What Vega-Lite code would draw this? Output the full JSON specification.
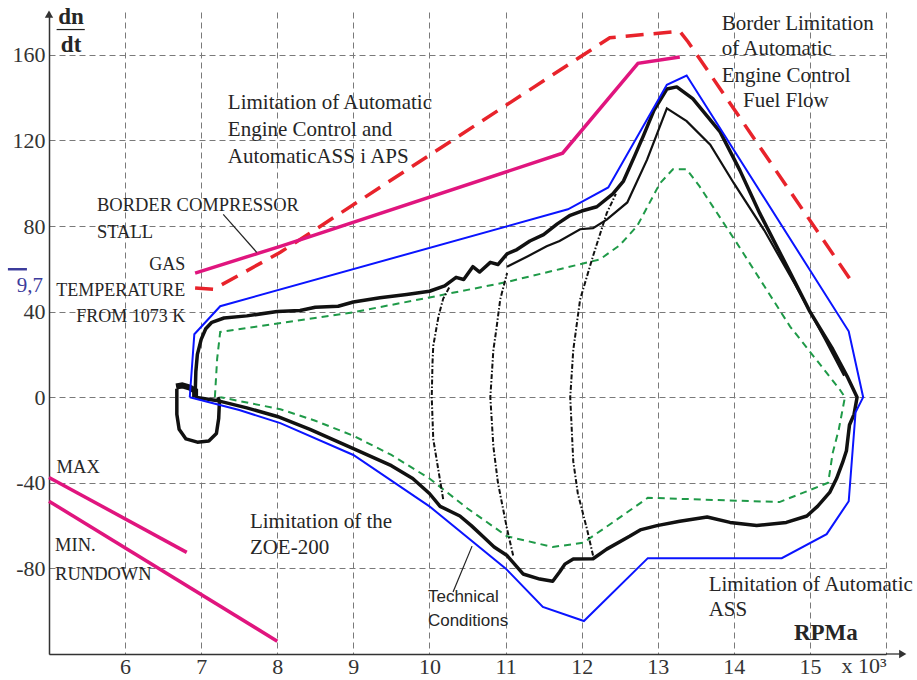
{
  "$schema": "https://vega.github.io/schema/vega-lite/v6.json",
  "width": 837,
  "height": 642,
  "autosize": {"type": "none"},
  "padding": {"left": 49, "top": 12, "right": 31, "bottom": 26},
  "background": "white",
  "config": {
    "view": {"stroke": null},
    "font": "Liberation Serif",
    "axis": {
      "domainColor": "#333333", "domainWidth": 1.5, "ticks": false,
      "grid": true, "gridColor": "#7a7a7a", "gridDash": [6, 4], "gridWidth": 1,
      "labelFont": "Liberation Serif", "labelFontSize": 22, "labelColor": "#333333",
      "labelFlush": false, "labelOverlap": false, "title": null
    }
  },
  "datasets": {
    "lines": [
      {"s": "blue", "x": 6.85, "y": 0}, {"s": "blue", "x": 6.91, "y": 29.4}, {"s": "blue", "x": 7.25, "y": 42.5},
      {"s": "blue", "x": 11.82, "y": 87.8}, {"s": "blue", "x": 12.35, "y": 98}, {"s": "blue", "x": 13.12, "y": 146},
      {"s": "blue", "x": 13.38, "y": 150.3}, {"s": "blue", "x": 15.51, "y": 30.8}, {"s": "blue", "x": 15.7, "y": 0},
      {"s": "blue", "x": 15.6, "y": -7}, {"s": "blue", "x": 15.51, "y": -48.6}, {"s": "blue", "x": 15.22, "y": -64},
      {"s": "blue", "x": 14.63, "y": -75.2}, {"s": "blue", "x": 12.87, "y": -75.2}, {"s": "blue", "x": 12.03, "y": -104.6},
      {"s": "blue", "x": 11.49, "y": -98}, {"s": "blue", "x": 11.0, "y": -80}, {"s": "blue", "x": 10.0, "y": -51},
      {"s": "blue", "x": 9.0, "y": -27}, {"s": "blue", "x": 8.04, "y": -12.1}, {"s": "blue", "x": 7.5, "y": -6},
      {"s": "blue", "x": 6.85, "y": 0},

      {"s": "green", "x": 7.18, "y": 0}, {"s": "green", "x": 7.21, "y": 18}, {"s": "green", "x": 7.25, "y": 30.5},
      {"s": "green", "x": 9.0, "y": 39.7}, {"s": "green", "x": 10.0, "y": 46.6}, {"s": "green", "x": 11.0, "y": 53.7},
      {"s": "green", "x": 11.71, "y": 59.8}, {"s": "green", "x": 12.24, "y": 64.4}, {"s": "green", "x": 12.5, "y": 71},
      {"s": "green", "x": 12.73, "y": 80}, {"s": "green", "x": 13.03, "y": 100}, {"s": "green", "x": 13.2, "y": 106.5},
      {"s": "green", "x": 13.38, "y": 106.5}, {"s": "green", "x": 13.55, "y": 98.5}, {"s": "green", "x": 14.04, "y": 72},
      {"s": "green", "x": 14.74, "y": 33}, {"s": "green", "x": 15.39, "y": 3.7}, {"s": "green", "x": 15.46, "y": 0},
      {"s": "green", "x": 15.38, "y": -15}, {"s": "green", "x": 15.3, "y": -26}, {"s": "green", "x": 15.24, "y": -40},
      {"s": "green", "x": 14.6, "y": -49}, {"s": "green", "x": 12.87, "y": -47}, {"s": "green", "x": 12.41, "y": -58.5},
      {"s": "green", "x": 12.02, "y": -68}, {"s": "green", "x": 11.62, "y": -70}, {"s": "green", "x": 11.02, "y": -65},
      {"s": "green", "x": 10.5, "y": -52}, {"s": "green", "x": 10.0, "y": -38}, {"s": "green", "x": 9.5, "y": -27},
      {"s": "green", "x": 9.0, "y": -18}, {"s": "green", "x": 8.5, "y": -11}, {"s": "green", "x": 8.04, "y": -5.6},
      {"s": "green", "x": 7.25, "y": 0},

      {"s": "red", "x": 6.92, "y": 51}, {"s": "red", "x": 7.16, "y": 50.4}, {"s": "red", "x": 8.04, "y": 67.7},
      {"s": "red", "x": 12.37, "y": 168}, {"s": "red", "x": 13.29, "y": 171}, {"s": "red", "x": 13.4, "y": 166},
      {"s": "red", "x": 15.55, "y": 54},

      {"s": "mag", "x": 6.92, "y": 58}, {"s": "mag", "x": 8.04, "y": 70.5}, {"s": "mag", "x": 11.75, "y": 114},
      {"s": "mag", "x": 12.74, "y": 156}, {"s": "mag", "x": 13.29, "y": 159},
      {"s": "max", "x": 5.0, "y": -37.5}, {"s": "max", "x": 6.81, "y": -72.5},
      {"s": "min", "x": 5.0, "y": -48.6}, {"s": "min", "x": 8.0, "y": -114}
    ],
    "black": [
      {"s": "main", "x": 6.92, "y": 0}, {"s": "main", "x": 6.93, "y": 12}, {"s": "main", "x": 6.95, "y": 20},
      {"s": "main", "x": 7.0, "y": 27}, {"s": "main", "x": 7.06, "y": 32}, {"s": "main", "x": 7.14, "y": 35},
      {"s": "main", "x": 7.3, "y": 37}, {"s": "main", "x": 7.6, "y": 38}, {"s": "main", "x": 8.0, "y": 40},
      {"s": "main", "x": 8.3, "y": 40.5}, {"s": "main", "x": 8.5, "y": 42}, {"s": "main", "x": 8.8, "y": 42.5},
      {"s": "main", "x": 9.0, "y": 44.5}, {"s": "main", "x": 9.35, "y": 46.5}, {"s": "main", "x": 9.7, "y": 48},
      {"s": "main", "x": 10.0, "y": 49.5}, {"s": "main", "x": 10.2, "y": 52}, {"s": "main", "x": 10.35, "y": 56},
      {"s": "main", "x": 10.45, "y": 55}, {"s": "main", "x": 10.57, "y": 61}, {"s": "main", "x": 10.66, "y": 58.5},
      {"s": "main", "x": 10.8, "y": 63}, {"s": "main", "x": 10.9, "y": 62}, {"s": "main", "x": 11.02, "y": 67},
      {"s": "main", "x": 11.15, "y": 69}, {"s": "main", "x": 11.32, "y": 73}, {"s": "main", "x": 11.5, "y": 76},
      {"s": "main", "x": 11.68, "y": 81}, {"s": "main", "x": 11.85, "y": 85}, {"s": "main", "x": 12.0, "y": 87},
      {"s": "main", "x": 12.2, "y": 89}, {"s": "main", "x": 12.41, "y": 95}, {"s": "main", "x": 12.55, "y": 101},
      {"s": "main", "x": 12.7, "y": 113}, {"s": "main", "x": 12.81, "y": 122}, {"s": "main", "x": 12.95, "y": 134},
      {"s": "main", "x": 13.12, "y": 144}, {"s": "main", "x": 13.25, "y": 145}, {"s": "main", "x": 13.46, "y": 139.5},
      {"s": "main", "x": 13.82, "y": 124}, {"s": "main", "x": 14.08, "y": 106}, {"s": "main", "x": 14.34, "y": 86},
      {"s": "main", "x": 14.7, "y": 61}, {"s": "main", "x": 15.0, "y": 40}, {"s": "main", "x": 15.3, "y": 22.4},
      {"s": "main", "x": 15.5, "y": 9}, {"s": "main", "x": 15.62, "y": 0}, {"s": "main", "x": 15.58, "y": -8},
      {"s": "main", "x": 15.52, "y": -13}, {"s": "main", "x": 15.48, "y": -25}, {"s": "main", "x": 15.43, "y": -30.5},
      {"s": "main", "x": 15.35, "y": -38}, {"s": "main", "x": 15.26, "y": -44.5}, {"s": "main", "x": 15.1, "y": -51},
      {"s": "main", "x": 14.96, "y": -55.5}, {"s": "main", "x": 14.69, "y": -58.5}, {"s": "main", "x": 14.3, "y": -60},
      {"s": "main", "x": 13.95, "y": -58.5}, {"s": "main", "x": 13.65, "y": -56}, {"s": "main", "x": 13.29, "y": -58},
      {"s": "main", "x": 12.99, "y": -60}, {"s": "main", "x": 12.77, "y": -62}, {"s": "main", "x": 12.63, "y": -65},
      {"s": "main", "x": 12.33, "y": -71}, {"s": "main", "x": 12.15, "y": -75.5}, {"s": "main", "x": 11.89, "y": -75.6},
      {"s": "main", "x": 11.78, "y": -78}, {"s": "main", "x": 11.71, "y": -81.7}, {"s": "main", "x": 11.62, "y": -86},
      {"s": "main", "x": 11.45, "y": -85}, {"s": "main", "x": 11.23, "y": -82.6}, {"s": "main", "x": 11.02, "y": -74},
      {"s": "main", "x": 10.85, "y": -70}, {"s": "main", "x": 10.7, "y": -65}, {"s": "main", "x": 10.55, "y": -60},
      {"s": "main", "x": 10.4, "y": -55.5}, {"s": "main", "x": 10.14, "y": -51}, {"s": "main", "x": 10.0, "y": -45},
      {"s": "main", "x": 9.78, "y": -38}, {"s": "main", "x": 9.5, "y": -32}, {"s": "main", "x": 9.0, "y": -24},
      {"s": "main", "x": 8.43, "y": -15}, {"s": "main", "x": 8.0, "y": -9}, {"s": "main", "x": 7.6, "y": -5},
      {"s": "main", "x": 7.2, "y": -1.5}, {"s": "main", "x": 6.92, "y": 0},

      {"s": "second", "x": 11.02, "y": 61}, {"s": "second", "x": 11.3, "y": 66}, {"s": "second", "x": 11.54, "y": 70.5},
      {"s": "second", "x": 11.71, "y": 73}, {"s": "second", "x": 11.98, "y": 78.5}, {"s": "second", "x": 12.15, "y": 79},
      {"s": "second", "x": 12.33, "y": 83}, {"s": "second", "x": 12.6, "y": 91}, {"s": "second", "x": 12.86, "y": 111},
      {"s": "second", "x": 13.12, "y": 135}, {"s": "second", "x": 13.38, "y": 129}, {"s": "second", "x": 13.69, "y": 118},
      {"s": "second", "x": 14.0, "y": 100}, {"s": "second", "x": 14.4, "y": 78}, {"s": "second", "x": 14.8, "y": 53},
      {"s": "second", "x": 15.2, "y": 27}, {"s": "second", "x": 15.45, "y": 10},

      {"s": "blob", "x": 6.67, "y": 5}, {"s": "blob", "x": 6.75, "y": 5.5}, {"s": "blob", "x": 6.85, "y": 4.5},
      {"s": "blob", "x": 6.92, "y": 3}, {"s": "blob", "x": 6.92, "y": 0},

      {"s": "hook", "x": 6.68, "y": 4}, {"s": "hook", "x": 6.68, "y": -8}, {"s": "hook", "x": 6.71, "y": -15},
      {"s": "hook", "x": 6.8, "y": -19.5}, {"s": "hook", "x": 6.95, "y": -21}, {"s": "hook", "x": 7.1, "y": -20.5},
      {"s": "hook", "x": 7.2, "y": -17}, {"s": "hook", "x": 7.23, "y": -10}, {"s": "hook", "x": 7.24, "y": -2},
      {"s": "hook", "x": 7.22, "y": 0}
    ],
    "dotted": [
      {"s": "A", "x": 10.18, "y": -47.6}, {"s": "A", "x": 10.05, "y": -19.6}, {"s": "A", "x": 10.03, "y": 0},
      {"s": "A", "x": 10.04, "y": 16}, {"s": "A", "x": 10.05, "y": 24}, {"s": "A", "x": 10.12, "y": 38},
      {"s": "A", "x": 10.18, "y": 46}, {"s": "A", "x": 10.27, "y": 52},
      {"s": "B", "x": 11.1, "y": -74}, {"s": "B", "x": 11.02, "y": -61.6}, {"s": "B", "x": 10.9, "y": -40},
      {"s": "B", "x": 10.84, "y": -23}, {"s": "B", "x": 10.8, "y": 0}, {"s": "B", "x": 10.84, "y": 22},
      {"s": "B", "x": 10.88, "y": 32}, {"s": "B", "x": 10.93, "y": 45.7}, {"s": "B", "x": 11.02, "y": 58},
      {"s": "C", "x": 12.15, "y": -74}, {"s": "C", "x": 12.07, "y": -61.6}, {"s": "C", "x": 11.95, "y": -45},
      {"s": "C", "x": 11.89, "y": -30}, {"s": "C", "x": 11.85, "y": 0}, {"s": "C", "x": 11.89, "y": 22},
      {"s": "C", "x": 11.98, "y": 45.7}, {"s": "C", "x": 12.15, "y": 66}, {"s": "C", "x": 12.33, "y": 86},
      {"s": "C", "x": 12.45, "y": 95}
    ],
    "leaders": [
      {"s": "a", "x": 7.29, "y": 85.4, "x2": 7.73, "y2": 67.7},
      {"s": "b", "x": 10.56, "y": -69.6, "x2": 10.31, "y2": -91},
      {"s": "c", "x": 5.1, "y": 171.8, "x2": 5.47, "y2": 171.8},
      {"s": "d", "x": 16.0, "y": -120, "x2": 16.22, "y2": -120}
    ],
    "textL": [
      {"t": "Limitation of Automatic", "x": 7.35, "y": 137.7},
      {"t": "Engine Control and", "x": 7.35, "y": 124.7},
      {"t": "AutomaticASS i APS", "x": 7.35, "y": 112.1},
      {"t": "Limitation of the", "x": 7.64, "y": -58.4},
      {"t": "ZOE-200", "x": 7.64, "y": -70.5},
      {"t": "Limitation of Automatic", "x": 13.67, "y": -87.8},
      {"t": "ASS", "x": 13.67, "y": -99.4},
      {"t": "Border Limitation", "x": 13.84, "y": 174.6},
      {"t": "of Automatic", "x": 13.84, "y": 162.5},
      {"t": "Engine Control", "x": 13.84, "y": 150.3},
      {"t": "Fuel Flow", "x": 14.12, "y": 138.2}
    ],
    "capsL": [
      {"t": "BORDER COMPRESSOR", "x": 5.63, "y": 89.6},
      {"t": "STALL", "x": 5.63, "y": 77},
      {"t": "MAX", "x": 5.1, "y": -32.7},
      {"t": "MIN.", "x": 5.08, "y": -69.1},
      {"t": "RUNDOWN", "x": 5.08, "y": -82.6}
    ],
    "capsR": [
      {"t": "GAS", "x": 6.79, "y": 61.6},
      {"t": "TEMPERATURE", "x": 6.79, "y": 49.5},
      {"t": "FROM 1073 K", "x": 6.79, "y": 37.3}
    ],
    "sans": [
      {"t": "Technical", "x": 9.98, "y": -93.4},
      {"t": "Conditions", "x": 9.98, "y": -104.6}
    ],
    "bold": [
      {"t": "dn", "x": 5.29, "y": 177.6},
      {"t": "dt", "x": 5.29, "y": 164.8},
      {"t": "RPMa", "x": 15.21, "y": -110.2}
    ],
    "arrows": [
      {"x": 5.0, "y": 179, "shape": "triangle-up"},
      {"x": 16.22, "y": -120, "shape": "triangle-right"}
    ]
  },
  "layer": [
    {
      "data": {"name": "lines"},
      "transform": [{"filter": "datum.s === 'green'"}],
      "mark": {"type": "line", "color": "#1f9a48", "strokeWidth": 2, "strokeDash": [7, 5]},
      "encoding": {
        "x": {"field": "x", "type": "quantitative", "scale": {"domain": [5, 16], "nice": false, "zero": false},
          "axis": {"values": [5, 6, 7, 8, 9, 10, 11, 12, 13, 14, 15, 16],
            "labelExpr": "datum.value >= 6 && datum.value <= 15 ? toString(datum.value) : ''", "labelPadding": 2}},
        "y": {"field": "y", "type": "quantitative", "scale": {"domain": [-120, 180], "nice": false, "zero": false},
          "axis": {"values": [-80, -40, 0, 40, 80, 120, 160], "labelExpr": "toString(datum.value)", "labelPadding": 4}},
        "order": {"value": null}
      }
    },
    {
      "data": {"name": "black"},
      "transform": [{"filter": "datum.s === 'main' || datum.s === 'hook'"}],
      "mark": {"type": "line", "color": "#111111", "strokeWidth": 3.5, "strokeJoin": "round"},
      "encoding": {
        "x": {"field": "x", "type": "quantitative"},
        "y": {"field": "y", "type": "quantitative"},
        "detail": {"field": "s"},
        "order": {"value": null}
      }
    },
    {
      "data": {"name": "black"},
      "transform": [{"filter": "datum.s === 'second'"}],
      "mark": {"type": "line", "color": "#111111", "strokeWidth": 2.2},
      "encoding": {
        "x": {"field": "x", "type": "quantitative"},
        "y": {"field": "y", "type": "quantitative"},
        "order": {"value": null}
      }
    },
    {
      "data": {"name": "black"},
      "transform": [{"filter": "datum.s === 'blob'"}],
      "mark": {"type": "line", "color": "#111111", "strokeWidth": 6},
      "encoding": {
        "x": {"field": "x", "type": "quantitative"},
        "y": {"field": "y", "type": "quantitative"},
        "order": {"value": null}
      }
    },
    {
      "data": {"name": "dotted"},
      "mark": {"type": "line", "color": "#111111", "strokeWidth": 2, "strokeDash": [5, 2, 1.5, 2]},
      "encoding": {
        "x": {"field": "x", "type": "quantitative"},
        "y": {"field": "y", "type": "quantitative"},
        "detail": {"field": "s"},
        "order": {"value": null}
      }
    },
    {
      "data": {"name": "lines"},
      "transform": [{"filter": "datum.s === 'blue'"}],
      "mark": {"type": "line", "color": "#0a14ff", "strokeWidth": 2},
      "encoding": {
        "x": {"field": "x", "type": "quantitative"},
        "y": {"field": "y", "type": "quantitative"},
        "order": {"value": null}
      }
    },
    {
      "data": {"name": "lines"},
      "transform": [{"filter": "datum.s === 'red'"}],
      "mark": {"type": "line", "color": "#e8232b", "strokeWidth": 3.5, "strokeDash": [18, 10]},
      "encoding": {
        "x": {"field": "x", "type": "quantitative"},
        "y": {"field": "y", "type": "quantitative"},
        "order": {"value": null}
      }
    },
    {
      "data": {"name": "lines"},
      "transform": [{"filter": "datum.s === 'mag' || datum.s === 'max' || datum.s === 'min'"}],
      "mark": {"type": "line", "color": "#e0157e", "strokeWidth": 3.5},
      "encoding": {
        "x": {"field": "x", "type": "quantitative"},
        "y": {"field": "y", "type": "quantitative"},
        "detail": {"field": "s"},
        "order": {"value": null}
      }
    },
    {
      "data": {"name": "leaders"},
      "mark": {"type": "rule", "color": "#222222", "strokeWidth": 1.2},
      "encoding": {
        "x": {"field": "x", "type": "quantitative"},
        "y": {"field": "y", "type": "quantitative"},
        "x2": {"field": "x2"},
        "y2": {"field": "y2"}
      }
    },
    {
      "data": {"name": "arrows"},
      "mark": {"type": "point", "filled": true, "color": "#333333", "size": 70, "opacity": 1},
      "encoding": {
        "x": {"field": "x", "type": "quantitative"},
        "y": {"field": "y", "type": "quantitative"},
        "shape": {"field": "shape", "type": "nominal", "scale": null}
      }
    },
    {
      "data": {"name": "textL"},
      "mark": {"type": "text", "align": "left", "baseline": "middle", "font": "Liberation Serif", "fontSize": 21, "color": "#262626"},
      "encoding": {
        "x": {"field": "x", "type": "quantitative"},
        "y": {"field": "y", "type": "quantitative"},
        "text": {"field": "t"}
      }
    },
    {
      "data": {"name": "capsL"},
      "mark": {"type": "text", "align": "left", "baseline": "middle", "font": "Liberation Serif", "fontSize": 18.5, "color": "#262626"},
      "encoding": {
        "x": {"field": "x", "type": "quantitative"},
        "y": {"field": "y", "type": "quantitative"},
        "text": {"field": "t"}
      }
    },
    {
      "data": {"name": "capsR"},
      "mark": {"type": "text", "align": "right", "baseline": "middle", "font": "Liberation Serif", "fontSize": 18, "color": "#262626"},
      "encoding": {
        "x": {"field": "x", "type": "quantitative"},
        "y": {"field": "y", "type": "quantitative"},
        "text": {"field": "t"}
      }
    },
    {
      "data": {"name": "sans"},
      "mark": {"type": "text", "align": "left", "baseline": "middle", "font": "Liberation Sans", "fontSize": 17, "color": "#262626"},
      "encoding": {
        "x": {"field": "x", "type": "quantitative"},
        "y": {"field": "y", "type": "quantitative"},
        "text": {"field": "t"}
      }
    },
    {
      "data": {"name": "bold"},
      "mark": {"type": "text", "align": "center", "baseline": "middle", "font": "Liberation Serif", "fontSize": 23, "fontWeight": "bold", "color": "#262626"},
      "encoding": {
        "x": {"field": "x", "type": "quantitative"},
        "y": {"field": "y", "type": "quantitative"},
        "text": {"field": "t"}
      }
    },
    {
      "data": {"values": [{"t": "x 10³", "x": 15.71, "y": -125.6}]},
      "mark": {"type": "text", "align": "center", "baseline": "middle", "font": "Liberation Serif", "fontSize": 22, "color": "#333333"},
      "encoding": {
        "x": {"field": "x", "type": "quantitative"},
        "y": {"field": "y", "type": "quantitative"},
        "text": {"field": "t"}
      }
    },
    {
      "data": {"values": [{"t": "9,7", "x": 4.75, "y": 51.8, "x1": 4.46, "x2": 4.71, "yb": 59.8}]},
      "layer": [
        {
          "mark": {"type": "text", "align": "center", "baseline": "middle", "font": "Liberation Serif", "fontSize": 21, "color": "#3c3c9c"},
          "encoding": {
            "x": {"field": "x", "type": "quantitative"},
            "y": {"field": "y", "type": "quantitative"},
            "text": {"field": "t"}
          }
        },
        {
          "mark": {"type": "rule", "color": "#3c3c9c", "strokeWidth": 2.5},
          "encoding": {
            "x": {"field": "x1", "type": "quantitative"},
            "x2": {"field": "x2"},
            "y": {"field": "yb", "type": "quantitative"}
          }
        }
      ]
    }
  ]
}
